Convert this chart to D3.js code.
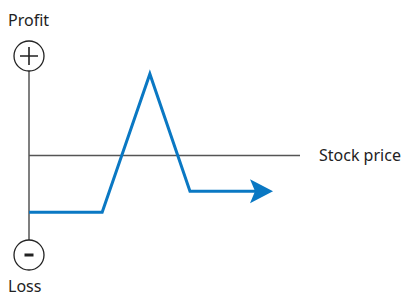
<!DOCTYPE html>
<html>
<head>
<meta charset="utf-8">
<script src="https://cdn.jsdelivr.net/npm/d3@7"></script>
<style>
  html, body { margin: 0; padding: 0; background: #fff; }
  svg { display: block; }
  text { font-family: "Noto Sans", "Open Sans", sans-serif; fill: #222; }
</style>
</head>
<body>
<div id="chart"></div>
<script>
// Payoff profile (abstract units): stock price vs profit
const prices = [0, 27, 44.6, 59.4, 83.4];
const profits = [-0.57, -0.57, 0.82, -0.36, -0.36];
const axisLabels = ['Profit', 'Loss', 'Stock price'];

const width = 403, height = 296;
const blue = '#0a78c3';

const svg = d3.select('#chart').append('svg')
    .attr('width', width)
    .attr('height', height);

const x = d3.scaleLinear().domain([0, 100]).range([29, 300]);
const y = d3.scaleLinear().domain([-1, 1]).range([255, 56]);

// Arrow head marker
svg.append('defs').append('marker')
    .attr('id', 'arrow')
    .attr('markerUnits', 'userSpaceOnUse')
    .attr('viewBox', '-1 -13 26 26')
    .attr('markerWidth', 26)
    .attr('markerHeight', 26)
    .attr('refX', 5)
    .attr('refY', 0)
    .attr('orient', 'auto')
    .append('path')
    .attr('d', 'M0,-12L23,0L0,12L5,0Z')
    .attr('fill', blue);

// Axes
svg.append('line')
    .attr('x1', x(0)).attr('x2', x(0))
    .attr('y1', y(1) + 15).attr('y2', y(-1) - 15)
    .attr('stroke', '#555').attr('stroke-width', 1.5);

svg.append('line')
    .attr('x1', x(0)).attr('x2', x(100))
    .attr('y1', y(0)).attr('y2', y(0))
    .attr('stroke', '#555').attr('stroke-width', 1.5);

// Plus / minus circles
const signs = svg.selectAll('g.sign')
    .data([1, -1])
    .enter().append('g')
    .attr('class', 'sign')
    .attr('transform', d => `translate(${x(0)},${y(d)})`);

signs.append('circle')
    .attr('r', 15)
    .attr('fill', '#fff')
    .attr('stroke', '#222')
    .attr('stroke-width', 1.3);

signs.filter(d => d > 0).append('path')
    .attr('d', 'M-9,0H9M0,-9V9')
    .attr('stroke', '#222')
    .attr('stroke-width', 1.6);

signs.filter(d => d < 0).append('rect')
    .attr('x', -4.5).attr('y', -1.5)
    .attr('width', 9).attr('height', 3)
    .attr('fill', '#222');

// Labels
svg.append('text')
    .attr('x', 8).attr('y', 26)
    .style('font-size', '16px')
    .text(axisLabels[0]);

svg.append('text')
    .attr('x', 8).attr('y', 292)
    .style('font-size', '16px')
    .text(axisLabels[1]);

svg.append('text')
    .attr('x', 319).attr('y', 161)
    .style('font-size', '16px')
    .text(axisLabels[2]);

// Payoff line
const line = d3.line()
    .x((d, i) => x(prices[i]))
    .y(d => y(d));

svg.append('path')
    .datum(profits)
    .attr('d', line)
    .attr('fill', 'none')
    .attr('stroke', blue)
    .attr('stroke-width', 3)
    .attr('stroke-linejoin', 'miter')
    .attr('marker-end', 'url(#arrow)');
</script>
</body>
</html>
